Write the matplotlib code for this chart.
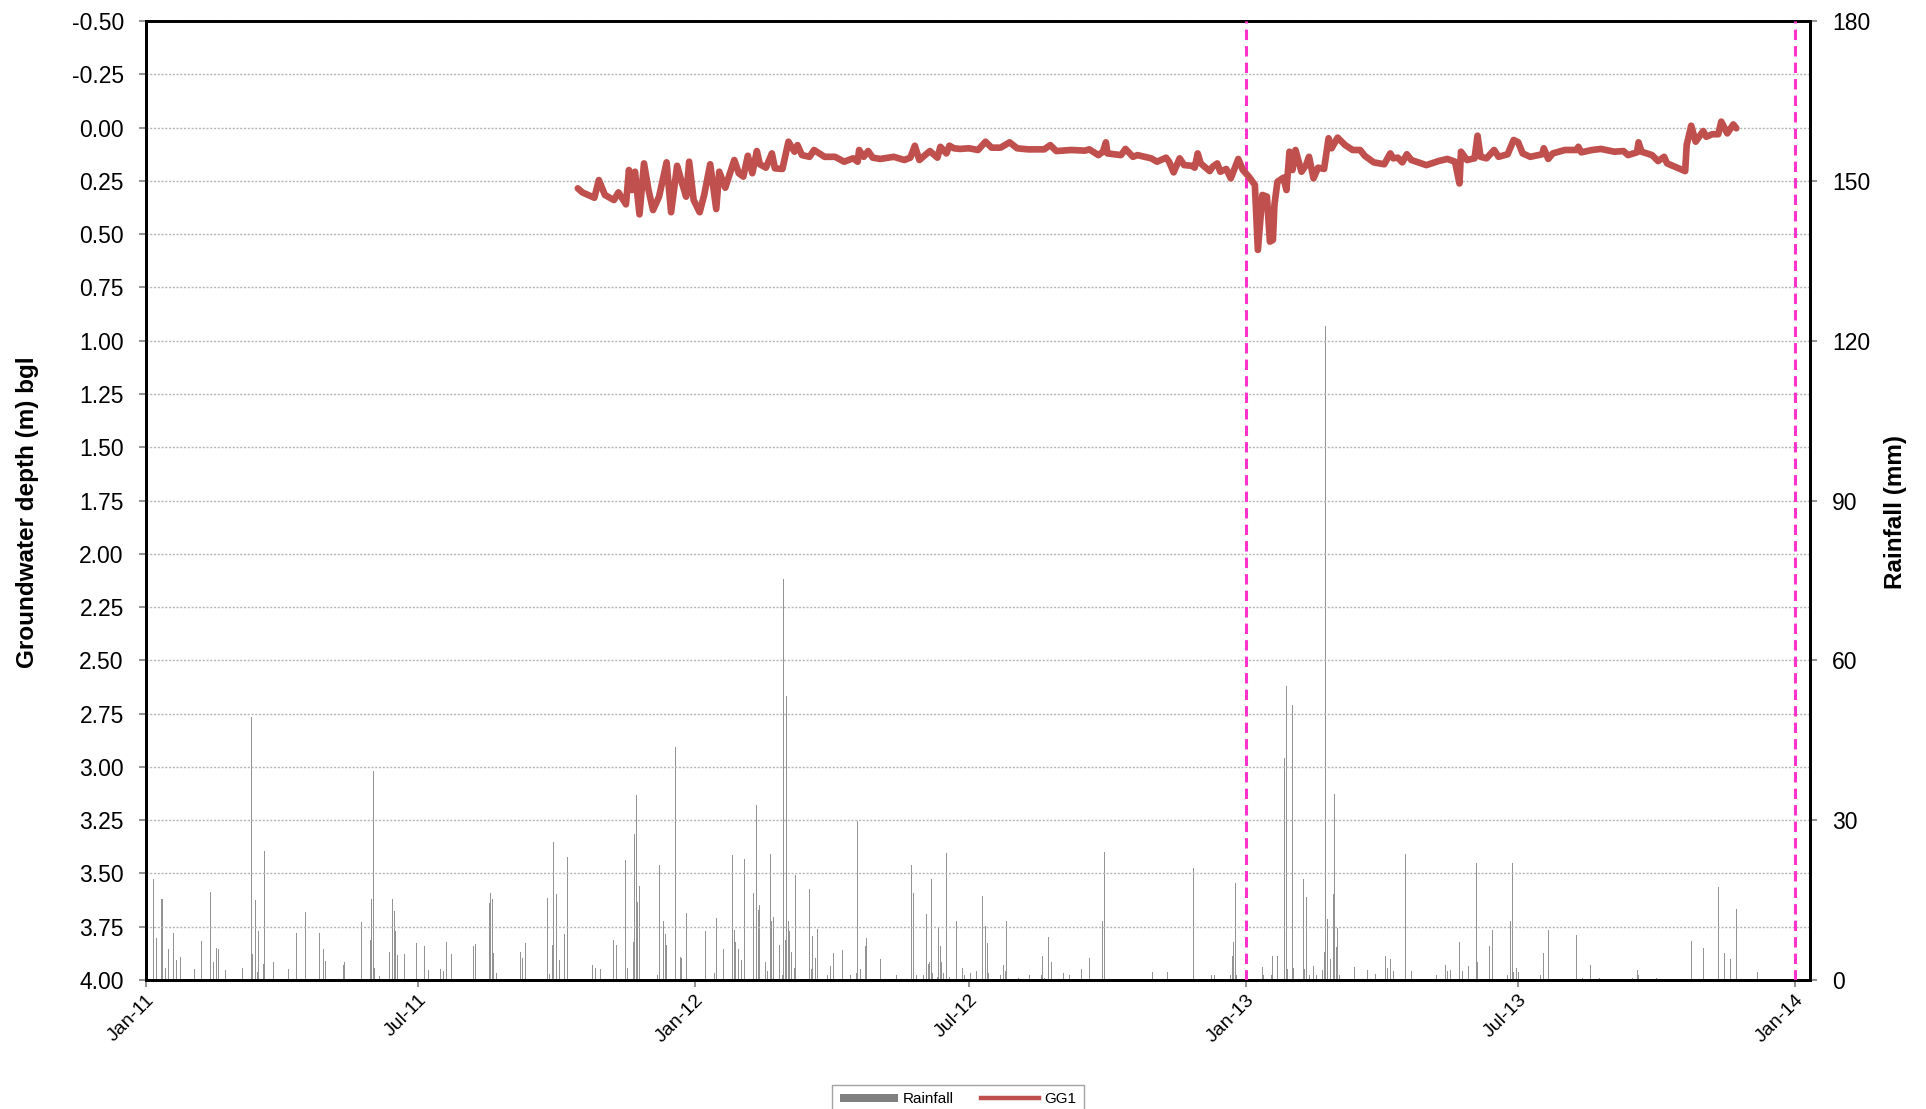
import matplotlib
matplotlib.use("Agg")
import matplotlib.dates as mdates
import matplotlib.pyplot as plt
import pandas as pd
from matplotlib.lines import Line2D
from matplotlib.patches import Patch
from matplotlib.ticker import FormatStrFormatter, MultipleLocator

START = pd.Timestamp("2011-01-01")

# daily rainfall totals (days after 1 Jan 2011, mm)
rain_day = [
    2, 5, 7, 10, 11, 13, 15, 18, 20, 23, 32, 37, 43, 45, 47, 48, 53, 64, 70, 71,
    73, 74, 75, 78, 79, 85, 95, 100, 106, 115, 118, 119, 131, 132, 143, 149, 150, 151, 152, 155,
    162, 164, 165, 166, 167, 172, 180, 185, 188, 196, 198, 200, 203, 218, 219, 228, 229, 230, 231, 233,
    249, 250, 252, 267, 268, 270, 271, 273, 275, 278, 280, 297, 299, 302, 311, 313, 319, 320, 324, 325,
    326, 327, 328, 329, 340, 341, 344, 345, 346, 352, 355, 356, 359, 372, 378, 379, 384,
    390, 391, 392, 394, 396, 398, 404, 406, 407, 408, 412, 413, 415, 416, 417, 421, 423, 424, 425,
    426, 427, 428, 429, 431, 432, 440, 441, 442, 443, 445, 446, 453, 455, 457, 463, 468, 472, 473, 475,
    478, 479, 488, 499, 509, 510, 512, 517, 519, 520, 521, 522, 523, 526, 527, 528, 529, 530, 532, 534,
    539, 543, 544, 548, 549, 552, 556, 558, 559, 560, 568, 570, 571, 572, 580, 587, 595, 596, 597, 600,
    602, 610, 614, 622, 627, 636, 637, 669, 679, 696, 708,
    710, 721, 722, 723, 724, 725, 742, 743, 748, 749, 752, 757, 758, 759, 762, 763, 769, 770, 771, 773,
    776, 778, 782, 783, 784, 785, 787, 789, 790, 791, 792, 793, 803, 812, 817, 824, 825, 827, 829, 837,
    841, 858, 864, 865, 867, 873, 874, 875, 879, 884, 885, 893, 895, 905, 907, 908, 909, 911, 912, 927,
    929, 932, 951, 955, 960, 966, 988, 991, 992, 1004, 1027, 1035, 1045, 1049, 1053, 1057, 1071,
]
rain_mm = [
    18.8, 19.0, 7.9, 15.3, 15.3, 2.2, 5.8, 8.8, 3.8, 4.4, 2.0, 7.4, 16.6, 3.3, 6.1, 5.8, 1.8, 2.2, 49.3, 4.8,
    15.0, 1.5, 9.2, 3.0, 24.2, 3.4, 2.0, 8.8, 12.8, 8.8, 5.8, 3.6, 2.8, 3.3, 10.8, 7.6, 15.2, 39.2, 2.2, 0.8,
    5.3, 15.2, 13.0, 9.2, 4.7, 4.8, 7.0, 6.4, 1.8, 2.0, 1.6, 7.2, 4.8, 6.3, 6.8, 14.4, 16.4, 15.3, 5.0, 1.4,
    5.2, 4.2, 7.0, 15.4, 1.1, 6.6, 26.0, 16.1, 3.8, 8.6, 23.0, 2.9, 2.3, 2.0, 7.6, 6.6, 22.5, 2.2, 7.2, 27.5,
    34.8, 14.6, 17.7, 38.3, 1.0, 21.6, 11.1, 8.6, 6.6, 43.8, 4.4, 4.2, 12.5, 9.2, 1.4, 11.6, 5.9,
    23.4, 9.4, 7.2, 5.8, 3.8, 22.8, 16.3, 32.8, 13.1, 14.0, 3.4, 1.6, 23.6, 11.0, 11.9, 6.6, 0.9, 75.2, 7.6,
    53.4, 11.1, 9.2, 5.3, 2.3, 19.7, 7.2, 17.0, 2.0, 8.3, 4.2, 9.6, 0.9, 2.7, 5.0, 5.6, 1.0, 1.4, 29.8, 2.0,
    6.4, 7.8, 3.9, 0.9, 21.6, 16.3, 1.0, 1.0, 12.3, 3.1, 3.3, 18.9, 1.3, 0.6, 10.0, 6.3, 3.4, 1.4, 23.8, 0.6,
    11.1, 2.2, 0.9, 1.3, 2.3, 1.6, 15.8, 10.2, 7.0, 1.3, 1.0, 2.8, 1.6, 11.1, 0.4, 1.0, 0.9, 4.6, 0.4, 8.0,
    3.3, 1.4, 1.0, 2.0, 4.2, 11.0, 24.0, 1.5, 1.5, 21.0, 1.0,
    1.0, 0.9, 4.5, 7.1, 18.2, 0.9, 2.5, 1.0, 0.9, 4.6, 4.5, 41.6, 55.2, 2.0, 51.7, 2.3, 19.0, 2.0, 15.5, 0.9,
    2.6, 0.9, 1.9, 5.2, 122.8, 11.4, 4.0, 16.1, 35.0, 6.2, 9.8, 0.9, 2.5, 1.9, 1.2, 4.5, 2.3, 4.0, 1.7, 23.6,
    1.7, 0.9, 2.9, 1.7, 1.9, 7.1, 7.9, 1.7, 2.6, 21.9, 3.4, 6.4, 9.3, 0.9, 11.0, 21.9, 1.5, 2.3, 1.5, 0.9,
    5.0, 9.3, 8.5, 0.4, 2.9, 0.4, 0.4, 1.9, 0.9, 0.4, 7.3, 6.0, 17.5, 5.0, 4.0, 13.4, 1.5,
]

# GG1 logger readings (days after 1 Jan 2011, m below ground level)
gg1_day = [
    287, 290, 298, 301, 305, 311, 314, 319, 321, 323, 325, 328, 331, 334, 337, 341, 346, 349, 353, 356,
    359, 361, 364, 368, 371, 375, 379, 381, 385, 391, 394, 397, 400, 403, 406, 408, 412, 416, 418, 423,
    427, 431, 433, 436, 441, 444, 451, 458, 464, 470, 473, 474, 477, 480, 483, 488, 497, 504, 508, 511,
    514, 521, 526, 528, 532, 534, 537, 541, 547, 553, 558, 562, 568, 574, 579, 586, 597, 601, 605, 615,
    624, 627, 633, 636, 638, 639, 648, 651, 656, 659, 668, 672, 678, 680, 683, 687, 690, 695, 697, 699,
    701, 707, 709, 712, 714, 718, 721, 726, 729, 733, 737, 739, 742, 745, 747, 749, 750, 752, 756, 758,
    760, 762, 764, 768, 771, 773, 776, 779, 783, 786, 788, 792, 797, 802, 807, 810, 816, 823, 827, 829,
    832, 835, 838, 841, 851, 859, 865, 870, 873, 874, 878, 883, 885, 887, 891, 896, 899, 905, 909, 912,
    915, 920, 928, 929, 932, 935, 943, 951, 952, 954, 961, 967, 976, 982, 985, 991, 992, 994, 1001, 1005,
    1009, 1011, 1016, 1023, 1024, 1027, 1030, 1035, 1037, 1041, 1045, 1047, 1051, 1055, 1057,
]
gg1_depth = [
    0.285, 0.304, 0.329, 0.246, 0.316, 0.340, 0.304, 0.360, 0.199, 0.293, 0.207, 0.407, 0.168, 0.293, 0.387, 0.324, 0.163, 0.397, 0.179, 0.254,
    0.324, 0.160, 0.340, 0.397, 0.316, 0.172, 0.382, 0.207, 0.282, 0.152, 0.214, 0.230, 0.132, 0.214, 0.110, 0.172, 0.188, 0.121, 0.191, 0.194,
    0.066, 0.113, 0.082, 0.129, 0.137, 0.105, 0.137, 0.137, 0.160, 0.144, 0.160, 0.105, 0.137, 0.110, 0.141, 0.147, 0.137, 0.152, 0.141, 0.085,
    0.152, 0.110, 0.141, 0.090, 0.121, 0.085, 0.097, 0.100, 0.097, 0.105, 0.066, 0.094, 0.094, 0.069, 0.097, 0.102, 0.102, 0.082, 0.110, 0.105,
    0.108, 0.102, 0.129, 0.113, 0.069, 0.121, 0.129, 0.100, 0.137, 0.129, 0.144, 0.160, 0.141, 0.160, 0.210, 0.144, 0.176, 0.179, 0.188, 0.121,
    0.168, 0.204, 0.183, 0.168, 0.207, 0.194, 0.238, 0.147, 0.199, 0.230, 0.269, 0.574, 0.316, 0.324, 0.535, 0.527, 0.363, 0.254, 0.235, 0.293,
    0.113, 0.199, 0.105, 0.207, 0.176, 0.137, 0.238, 0.188, 0.194, 0.050, 0.097, 0.047, 0.082, 0.105, 0.105, 0.132, 0.163, 0.172, 0.121, 0.144,
    0.141, 0.163, 0.125, 0.152, 0.176, 0.157, 0.147, 0.160, 0.262, 0.113, 0.152, 0.144, 0.038, 0.137, 0.144, 0.105, 0.137, 0.125, 0.058, 0.069,
    0.121, 0.137, 0.125, 0.097, 0.147, 0.121, 0.105, 0.105, 0.090, 0.116, 0.105, 0.100, 0.113, 0.110, 0.129, 0.116, 0.069, 0.113, 0.129, 0.157,
    0.137, 0.168, 0.183, 0.204, 0.082, -0.009, 0.066, 0.016, 0.043, 0.031, 0.031, -0.028, 0.027, -0.015, 0.003,
]

marker_dates = ["2013-01-01", "2014-01-01"]

plt.rcParams["font.family"] = ["Liberation Sans", "DejaVu Sans"]

rain_dates = START + pd.to_timedelta(rain_day, unit="D")
gg1_dates = START + pd.to_timedelta(gg1_day, unit="D")

fig = plt.figure(figsize=(19.26, 11.09), dpi=100)
ax = fig.add_axes([0.0758, 0.1163, 0.864, 0.8647])
ax2 = ax.twinx()

# rainfall on the secondary axis, behind the groundwater trace
ax2.bar(rain_dates, rain_mm, width=0.65, color="#939393", linewidth=0, align="center")
ax2.set_ylim(0, 180)
ax2.yaxis.set_major_locator(MultipleLocator(30))

ax.set_zorder(ax2.get_zorder() + 1)
ax.patch.set_visible(False)

ax.plot(gg1_dates, gg1_depth, color="#c0504d", lw=4.8,
        solid_joinstyle="round", solid_capstyle="round", zorder=5)
for d in marker_dates:
    ax.axvline(pd.Timestamp(d), color="#ff33cc", lw=2.2, ls=(0, (3.4, 2.0)), zorder=4)

ax.set_ylim(4.0, -0.5)
ax.yaxis.set_major_locator(MultipleLocator(0.25))
ax.yaxis.set_major_formatter(FormatStrFormatter("%.2f"))
ax.yaxis.grid(True, color="#b5b5b5", linestyle=(0, (1.5, 1.2)), linewidth=1.0)
ax.set_axisbelow(True)

ax.set_xlim(START, START + pd.Timedelta(days=1106))
ax.xaxis.set_major_locator(mdates.MonthLocator(bymonth=[1, 7]))
ax.xaxis.set_major_formatter(mdates.DateFormatter("%b-%y"))

for a in (ax, ax2):
    for s in a.spines.values():
        s.set_linewidth(2.0)
        s.set_color("black")

ax.tick_params(axis="y", direction="out", length=5, width=1.2, color="#808080",
               labelsize=16.5, pad=11)
ax2.tick_params(axis="y", direction="out", length=5, width=1.2, color="#808080",
                labelsize=16.5, pad=11)
ax.tick_params(axis="x", direction="out", length=5, width=1.2, color="#808080",
               labelsize=14, pad=3)
plt.setp(ax.get_xticklabels(), rotation=45, ha="right", va="top", rotation_mode="anchor")

ax.set_ylabel("Groundwater depth (m) bgl", fontsize=17.5, fontweight="bold")
ax.yaxis.set_label_coords(-0.064, 0.488)
ax2.set_ylabel("Rainfall (mm)", fontsize=17.5, fontweight="bold")
ax2.yaxis.set_label_coords(1.0445, 0.488)

handles = [
    Patch(facecolor="#808080", edgecolor="none"),
    Line2D([], [], color="#c0504d", lw=3.2),
]
leg = fig.legend(handles, ["Rainfall", "GG1"], loc="upper center",
                 bbox_to_anchor=(958 / 1926, 1 - 1077 / 1109), ncol=2,
                 fontsize=11, frameon=True, fancybox=False, edgecolor="#8c8c8c",
                 handlelength=3.8, handleheight=0.5, handletextpad=0.3,
                 columnspacing=1.8, borderpad=0.5)
leg.get_frame().set_linewidth(1.0)

fig.savefig("out.png", dpi=100)
